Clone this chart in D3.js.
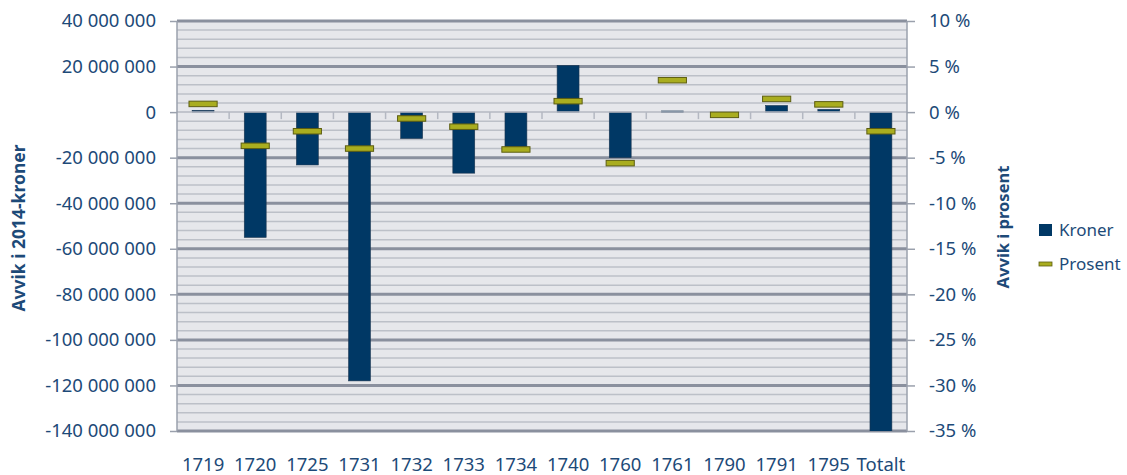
<!DOCTYPE html>
<html>
<head>
<meta charset="utf-8">
<script src="https://cdn.jsdelivr.net/npm/d3@7"></script>
<style>
  body { margin: 0; background: #fff; }
  svg text { font-family: "Noto Sans", sans-serif; fill: #1d4a78; }
</style>
</head>
<body>
<div id="chart"></div>
<script>
// Avvik per år, kroner (venstre akse) og prosent (høyre akse)
const categories = ["1719", "1720", "1725", "1731", "1732", "1733", "1734", "1740", "1760", "1761", "1790", "1791", "1795", "Totalt"];
const kroner = [800000, -55000000, -23200000, -118000000, -11600000, -26800000, -15200000, 20500000, -20000000, 500000, 0, 2900000, 1200000, -150000000];
const prosent = [0.9, -3.7, -2.1, -4.0, -0.7, -1.6, -4.1, 1.2, -5.6, 3.5, -0.3, 1.45, 0.85, -2.1];
const leftTicks = [40000000, 20000000, 0, -20000000, -40000000, -60000000, -80000000, -100000000, -120000000, -140000000];
const rightTicks = [10, 5, 0, -5, -10, -15, -20, -25, -30, -35];

const width = 1127, height = 475;
const margin = {top: 21, right: 220, bottom: 44, left: 177};
const plotW = width - margin.left - margin.right;
const plotH = height - margin.top - margin.bottom;

const svg = d3.select("#chart").append("svg")
    .attr("width", width)
    .attr("height", height);

const g = svg.append("g")
    .attr("transform", "translate(" + margin.left + "," + margin.top + ")");

// scales
const x = d3.scaleBand().domain(categories).range([0, plotW]);
const yL = d3.scaleLinear().domain([-140000000, 40000000]).range([plotH, 0]);
const yR = d3.scaleLinear().domain([-35, 10]).range([plotH, 0]);

const nb = d3.formatLocale({decimal: ",", thousands: " ", grouping: [3], currency: ["", ""], minus: "-"});
const fmtKr = nb.format(",d");

// background
g.append("rect")
    .attr("width", plotW)
    .attr("height", plotH)
    .attr("fill", "#e6e7eb");

// minor grid every 4 mill.
const minor = d3.range(-140000000, 40000001, 4000000).filter(d => d % 20000000 !== 0);
g.selectAll(".minor").data(minor).enter().append("line")
    .attr("x1", 0).attr("x2", plotW)
    .attr("y1", d => yL(d)).attr("y2", d => yL(d))
    .attr("stroke", "#bcc0c8")
    .attr("stroke-width", 1.5);

// major grid
g.selectAll(".major").data(leftTicks.filter(d => d !== 0)).enter().append("line")
    .attr("x1", 0).attr("x2", plotW)
    .attr("y1", d => yL(d)).attr("y2", d => yL(d))
    .attr("stroke", "#8a909e")
    .attr("stroke-width", 3);

// bars, clipped to plot area
g.append("clipPath").attr("id", "clip")
    .append("rect").attr("width", plotW).attr("height", plotH);

const barW = x.bandwidth() * 0.42;
g.append("g").attr("clip-path", "url(#clip)")
    .selectAll("rect").data(categories).enter().append("rect")
    .attr("x", d => x(d) + (x.bandwidth() - barW) / 2)
    .attr("y", (d, i) => yL(Math.max(0, kroner[i])))
    .attr("width", barW)
    .attr("height", (d, i) => Math.max(Math.abs(yL(kroner[i]) - yL(0)), kroner[i] === 0 ? 0 : 1.5))
    .attr("fill", "#003865")
    .attr("stroke", "#1b3550")
    .attr("stroke-width", 0.6);

// zero line with category ticks
g.append("line")
    .attr("x1", 0).attr("x2", plotW)
    .attr("y1", yL(0)).attr("y2", yL(0))
    .attr("stroke", "#b4b8c2")
    .attr("stroke-width", 1.5);
g.selectAll(".ctick").data(categories.slice(1)).enter().append("line")
    .attr("x1", d => x(d)).attr("x2", d => x(d))
    .attr("y1", yL(0)).attr("y2", yL(0) + 7)
    .attr("stroke", "#b4b8c2")
    .attr("stroke-width", 1.5);

// prosent markers
const mW = x.bandwidth() * 0.54, mH = 5.5;
g.selectAll(".marker").data(categories).enter().append("rect")
    .attr("x", d => x(d) + (x.bandwidth() - mW) / 2)
    .attr("y", (d, i) => yR(prosent[i]) - mH / 2)
    .attr("width", mW)
    .attr("height", mH)
    .attr("fill", "#a9ad1f")
    .attr("stroke", "#5d5e12")
    .attr("stroke-width", 1);

// axes
const axisL = g.append("g")
    .call(d3.axisLeft(yL).tickValues(leftTicks).tickFormat(fmtKr).tickSize(7).tickPadding(14));
const axisR = g.append("g")
    .attr("transform", "translate(" + plotW + ",0)")
    .call(d3.axisRight(yR).tickValues(rightTicks).tickFormat(d => nb.format("d")(d) + " %").tickSize(8).tickPadding(14));
[axisL, axisR].forEach(a => {
    a.select(".domain").attr("stroke", "#9aa0ac").attr("stroke-width", 1.5);
    a.selectAll(".tick line").attr("stroke", "#9aa0ac").attr("stroke-width", 1.5);
    a.selectAll(".tick text").attr("font-size", 18.5).attr("fill", "#1d4a78");
});
axisL.select(".domain").attr("d", "M0,0V" + plotH);
axisR.select(".domain").attr("d", "M0,0V" + plotH);

// category labels
g.selectAll(".xlab").data(categories).enter().append("text")
    .attr("x", d => x(d) + x.bandwidth() / 2)
    .attr("y", plotH + 40)
    .attr("text-anchor", "middle")
    .attr("font-size", 18.5)
    .text(d => d);

// axis titles
svg.append("text")
    .attr("transform", "translate(25,228) rotate(-90)")
    .attr("text-anchor", "middle")
    .attr("font-size", 17.5)
    .attr("font-weight", "bold")
    .text("Avvik i 2014-kroner");
svg.append("text")
    .attr("transform", "translate(1009,227) rotate(-90)")
    .attr("text-anchor", "middle")
    .attr("font-size", 16.5)
    .attr("font-weight", "bold")
    .text("Avvik i prosent");

// legend
const legend = svg.append("g").attr("transform", "translate(1039,224)");
legend.append("rect")
    .attr("width", 13).attr("height", 12)
    .attr("fill", "#003865");
legend.append("text")
    .attr("x", 20).attr("y", 12)
    .attr("font-size", 17)
    .text("Kroner");
legend.append("rect")
    .attr("y", 38).attr("width", 13).attr("height", 4)
    .attr("fill", "#a9ad1f")
    .attr("stroke", "#5d5e12")
    .attr("stroke-width", 0.8);
legend.append("text")
    .attr("x", 20).attr("y", 46)
    .attr("font-size", 17)
    .text("Prosent");
</script>
</body>
</html>
